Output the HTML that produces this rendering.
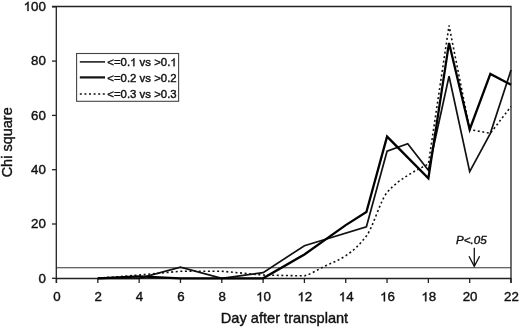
<!DOCTYPE html>
<html><head><meta charset="utf-8"><style>
html,body{margin:0;padding:0;background:#fff;}
svg{display:block;will-change:transform;}
tspan.one{fill:transparent;stroke:transparent;}
text{font-family:"Liberation Sans",sans-serif;fill:#111;stroke:#111;stroke-width:0.4;}
</style></head><body>
<svg width="520" height="329" viewBox="0 0 520 329">
<rect x="0" y="0" width="520" height="329" fill="#fff"/>
<g stroke="#222" stroke-width="1.3" fill="none">
<path d="M52,6.5 L511,6.5 L511,283"/>
<line x1="56.3" y1="6" x2="56.3" y2="283"/>
<line x1="56" y1="278.4" x2="511" y2="278.4" stroke-width="1.5"/>
<line x1="52" y1="278.30" x2="56.5" y2="278.30"/><line x1="52" y1="224.00" x2="56.5" y2="224.00"/><line x1="52" y1="169.70" x2="56.5" y2="169.70"/><line x1="52" y1="115.40" x2="56.5" y2="115.40"/><line x1="52" y1="61.10" x2="56.5" y2="61.10"/><line x1="52" y1="6.80" x2="56.5" y2="6.80"/>
<line x1="56.50" y1="278" x2="56.50" y2="283"/><line x1="97.82" y1="278" x2="97.82" y2="283"/><line x1="139.14" y1="278" x2="139.14" y2="283"/><line x1="180.46" y1="278" x2="180.46" y2="283"/><line x1="221.78" y1="278" x2="221.78" y2="283"/><line x1="263.10" y1="278" x2="263.10" y2="283"/><line x1="304.42" y1="278" x2="304.42" y2="283"/><line x1="345.74" y1="278" x2="345.74" y2="283"/><line x1="387.06" y1="278" x2="387.06" y2="283"/><line x1="428.38" y1="278" x2="428.38" y2="283"/><line x1="469.70" y1="278" x2="469.70" y2="283"/><line x1="511.02" y1="278" x2="511.02" y2="283"/>
</g>
<line x1="56.5" y1="267.8" x2="511" y2="267.8" stroke="#333" stroke-width="1.1"/>
<g font-size="13.3"><text x="45.8" y="282.50" text-anchor="end">0</text><text x="45.8" y="228.20" text-anchor="end">20</text><text x="45.8" y="173.90" text-anchor="end">40</text><text x="45.8" y="119.60" text-anchor="end">60</text><text x="45.8" y="65.30" text-anchor="end">80</text><text x="45.8" y="11.00" text-anchor="end"><tspan class="one">1</tspan>00</text><text x="56.90" y="301.3" text-anchor="middle">0</text><text x="98.22" y="301.3" text-anchor="middle">2</text><text x="139.54" y="301.3" text-anchor="middle">4</text><text x="180.86" y="301.3" text-anchor="middle">6</text><text x="222.18" y="301.3" text-anchor="middle">8</text><text x="263.50" y="301.3" text-anchor="middle"><tspan class="one">1</tspan>0</text><text x="304.82" y="301.3" text-anchor="middle"><tspan class="one">1</tspan>2</text><text x="346.14" y="301.3" text-anchor="middle"><tspan class="one">1</tspan>4</text><text x="387.46" y="301.3" text-anchor="middle"><tspan class="one">1</tspan>6</text><text x="428.78" y="301.3" text-anchor="middle"><tspan class="one">1</tspan>8</text><text x="470.10" y="301.3" text-anchor="middle">20</text><text x="511.42" y="301.3" text-anchor="middle">22</text></g>
<text x="284.5" y="323.0" font-size="14.6" text-anchor="middle">Day after transplant</text>
<text transform="translate(12.2,142.3) rotate(-90)" font-size="14.5" text-anchor="middle">Chi square</text>
<g fill="none" stroke-linejoin="miter">
<path d="M97.82,278.30 L139.14,275.04 L180.46,271.24 L221.78,271.24 L263.10,275.04 L304.42,275.86 C311.31,273.90 318.19,269.43 325.08,266.08 C331.97,262.74 338.85,260.29 345.74,255.77 C352.63,251.24 359.51,245.02 366.40,235.95 C373.29,226.87 380.17,200.69 387.06,192.51 C393.95,184.32 400.83,179.96 407.72,175.40 C414.61,170.84 421.49,167.80 428.38,164.00 L449.04,25.53 L469.70,129.52 L490.36,133.32 L511.02,106.44" stroke="#111" stroke-width="1.6" stroke-dasharray="2 2.6"/>
<polyline points="97.82,278.30 139.14,278.30 180.46,267.17 221.78,278.30 263.10,272.60 304.42,245.72 366.40,226.72 387.06,151.24 407.72,143.64 428.38,170.24 449.04,76.30 469.70,171.60 490.36,133.32 511.02,70.06" stroke="#111" stroke-width="1.7"/>
<polyline points="97.82,278.30 139.14,276.40 180.46,278.30 221.78,278.30 263.10,278.30 304.42,254.41 345.74,225.09 366.40,212.05 387.06,136.58 428.38,178.39 449.04,42.91 469.70,129.52 490.36,73.86 511.02,84.72" stroke="#000" stroke-width="2.3"/>
</g>
<rect x="76.6" y="53.5" width="102" height="47.8" fill="#fff" stroke="#444" stroke-width="1.1"/>
<g stroke="#111" fill="none">
<line x1="79.8" y1="61.9" x2="105" y2="61.9" stroke-width="1.5"/>
<line x1="79.8" y1="77.4" x2="105" y2="77.4" stroke-width="2.2"/>
<line x1="79.8" y1="94" x2="105" y2="94" stroke-width="1.4" stroke-dasharray="2 2.6"/>
</g>
<g font-size="11.4">
<text x="107.3" y="66.2">&lt;=0.<tspan class="one">1</tspan> vs &gt;0.<tspan class="one">1</tspan></text>
<text x="107.3" y="82.0">&lt;=0.2 vs &gt;0.2</text>
<text x="107.3" y="98.0">&lt;=0.3 vs &gt;0.3</text>
</g>
<text x="456" y="243.5" font-size="11.6" font-style="italic">P&lt;.05</text>
<g stroke="#111" stroke-width="1.3" fill="none">
<line x1="474.3" y1="247.8" x2="474.3" y2="266.3"/>
<polyline points="469,256.2 474.3,266.3 479.6,256.2"/>
</g>
<path transform="translate(23.60,11.00) scale(0.00649,-0.00649)" d="M763,0H583V1098Q518,1039 412,979T223,890V1057Q375,1125 489,1221T650,1409H763Z" fill="#111" stroke="#111" stroke-width="61.6"/>
<path transform="translate(256.09,301.30) scale(0.00649,-0.00649)" d="M763,0H583V1098Q518,1039 412,979T223,890V1057Q375,1125 489,1221T650,1409H763Z" fill="#111" stroke="#111" stroke-width="61.6"/>
<path transform="translate(297.41,301.30) scale(0.00649,-0.00649)" d="M763,0H583V1098Q518,1039 412,979T223,890V1057Q375,1125 489,1221T650,1409H763Z" fill="#111" stroke="#111" stroke-width="61.6"/>
<path transform="translate(338.73,301.30) scale(0.00649,-0.00649)" d="M763,0H583V1098Q518,1039 412,979T223,890V1057Q375,1125 489,1221T650,1409H763Z" fill="#111" stroke="#111" stroke-width="61.6"/>
<path transform="translate(380.05,301.30) scale(0.00649,-0.00649)" d="M763,0H583V1098Q518,1039 412,979T223,890V1057Q375,1125 489,1221T650,1409H763Z" fill="#111" stroke="#111" stroke-width="61.6"/>
<path transform="translate(421.37,301.30) scale(0.00649,-0.00649)" d="M763,0H583V1098Q518,1039 412,979T223,890V1057Q375,1125 489,1221T650,1409H763Z" fill="#111" stroke="#111" stroke-width="61.6"/>
<path transform="translate(130.11,66.20) scale(0.00557,-0.00557)" d="M763,0H583V1098Q518,1039 412,979T223,890V1057Q375,1125 489,1221T650,1409H763Z" fill="#111" stroke="#111" stroke-width="71.9"/>
<path transform="translate(170.33,66.20) scale(0.00557,-0.00557)" d="M763,0H583V1098Q518,1039 412,979T223,890V1057Q375,1125 489,1221T650,1409H763Z" fill="#111" stroke="#111" stroke-width="71.9"/>
</svg>
</body></html>
